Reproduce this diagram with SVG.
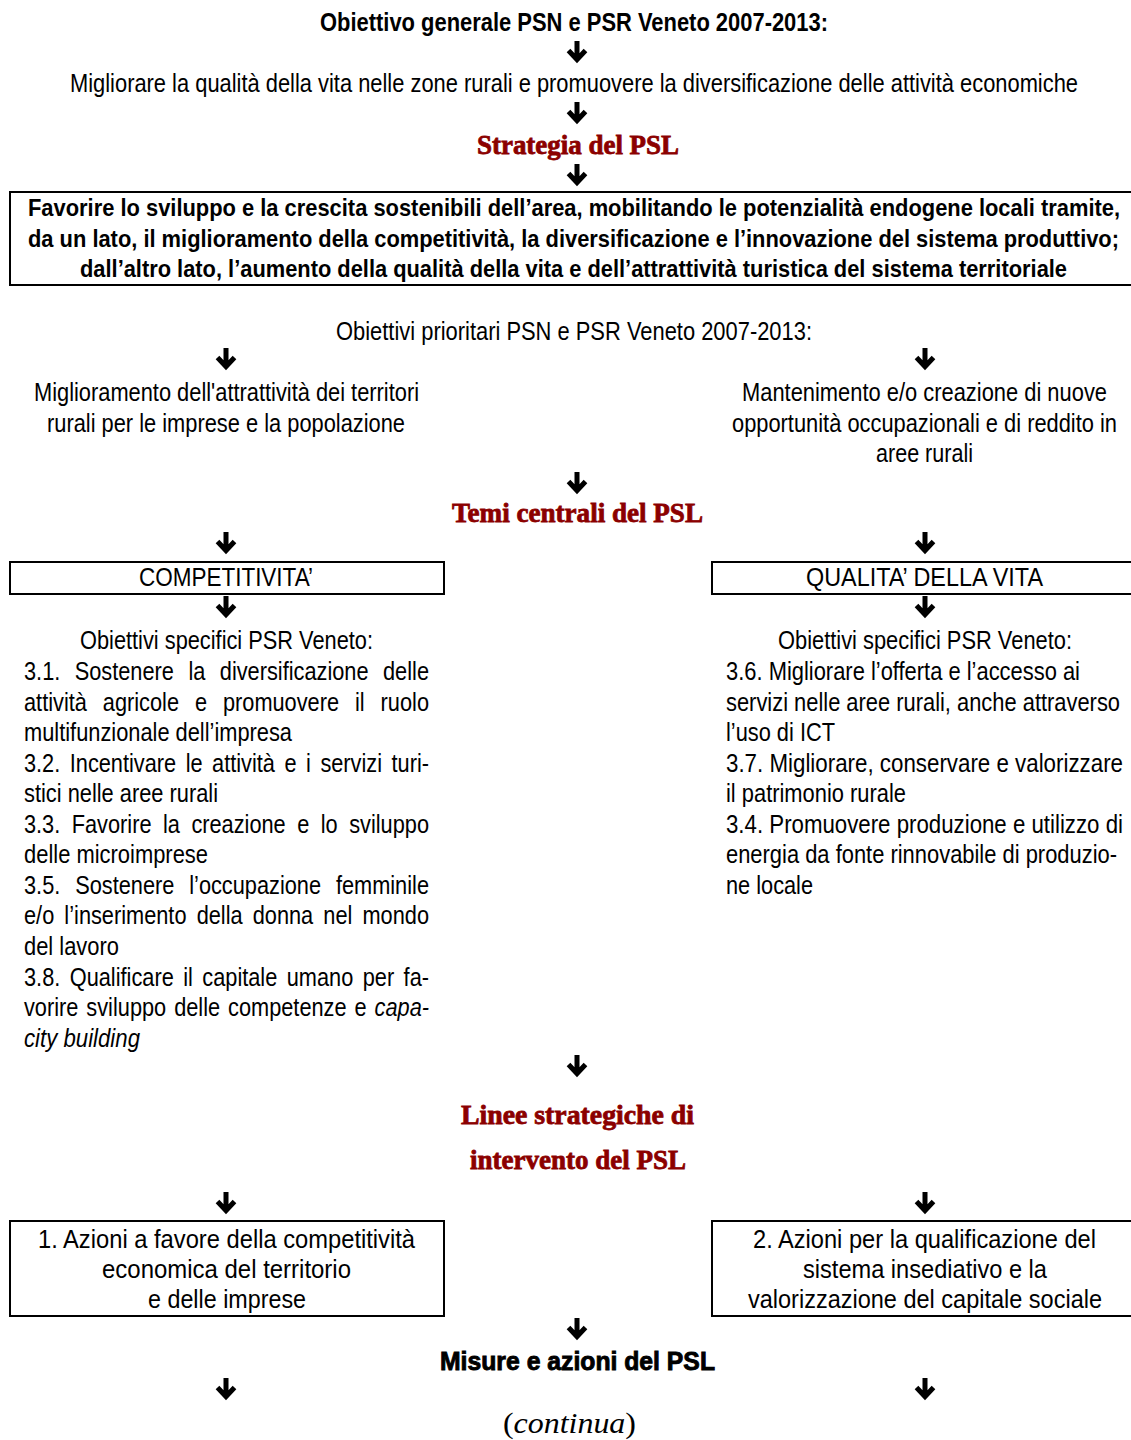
<svg xmlns="http://www.w3.org/2000/svg" width="1131" height="1440" viewBox="0 0 1131 1440">
<style>
.t{font-family:"Liberation Sans Narrow","Liberation Sans",Arial,sans-serif;font-size:25px;fill:#000}
.b{font-weight:bold;font-size:24px}
.c{text-anchor:middle}
.h{font-family:"Liberation Serif","DejaVu Serif",serif;font-weight:bold;font-size:28px;fill:#8B0000;stroke:#8B0000;stroke-width:0.8;text-anchor:middle}
.k{font-family:"Liberation Sans","DejaVu Sans",sans-serif;font-weight:bold;font-size:26px;fill:#000;stroke:#000;stroke-width:0.9;text-anchor:middle}
.box{fill:none;stroke:#000;stroke-width:2}
.it{font-style:italic}
</style>
<defs>
<path id="arr" d="M0,0 V18 M-8.5,9.5 L0,18.5 L8.5,9.5" fill="none" stroke="#000" stroke-width="5" stroke-linejoin="miter"/>
</defs>
<rect width="1131" height="1440" fill="#fff"/>

<g id="connectors">
<use href="#arr" x="577" y="41"/>
<use href="#arr" x="577" y="102"/>
<use href="#arr" x="577" y="164"/>
<use href="#arr" x="226" y="348"/>
<use href="#arr" x="925" y="348"/>
<use href="#arr" x="577" y="472"/>
<use href="#arr" x="226" y="532"/>
<use href="#arr" x="925" y="532"/>
<use href="#arr" x="226" y="596"/>
<use href="#arr" x="925" y="596"/>
<use href="#arr" x="577" y="1055"/>
<use href="#arr" x="226" y="1192"/>
<use href="#arr" x="925" y="1192"/>
<use href="#arr" x="577" y="1318"/>
<use href="#arr" x="226" y="1378"/>
<use href="#arr" x="925" y="1378"/>
</g>

<g id="obiettivo-generale">
<text class="t b c" x="574" y="31" textLength="508" lengthAdjust="spacingAndGlyphs" style="font-size:25px">Obiettivo generale PSN e PSR Veneto 2007-2013:</text>
</g>

<g id="migliorare">
<text class="t c" x="574" y="92" textLength="1008" lengthAdjust="spacingAndGlyphs">Migliorare la qualità della vita nelle zone rurali e promuovere la diversificazione delle attività economiche</text>
</g>

<g id="strategia-titolo">
<text class="h" x="578" y="154" textLength="202" lengthAdjust="spacingAndGlyphs">Strategia del PSL</text>
</g>

<g id="strategia-box">
<rect class="box" x="10" y="192" width="1130" height="93"/>
<text class="t b c" x="574" y="216" textLength="1092" lengthAdjust="spacingAndGlyphs">Favorire lo sviluppo e la crescita sostenibili dell’area, mobilitando le potenzialità endogene locali tramite,</text>
<text class="t b c" x="573.5" y="247" textLength="1091" lengthAdjust="spacingAndGlyphs">da un lato, il miglioramento della competitività, la diversificazione e l’innovazione del sistema produttivo;</text>
<text class="t b c" x="573.5" y="277" textLength="987" lengthAdjust="spacingAndGlyphs">dall’altro lato, l’aumento della qualità della vita e dell’attrattività turistica del sistema territoriale</text>
</g>

<g id="obiettivi-prioritari">
<text class="t c" x="574" y="340" textLength="476" lengthAdjust="spacingAndGlyphs">Obiettivi prioritari PSN e PSR Veneto 2007-2013:</text>
</g>

<g id="prioritario-1">
<text class="t c" x="226.5" y="401" textLength="385" lengthAdjust="spacingAndGlyphs">Miglioramento dell'attrattività dei territori</text>
<text class="t c" x="226" y="432" textLength="358" lengthAdjust="spacingAndGlyphs">rurali per le imprese e la popolazione</text>
</g>

<g id="prioritario-2">
<text class="t c" x="924.5" y="401" textLength="365" lengthAdjust="spacingAndGlyphs">Mantenimento e/o creazione di nuove</text>
<text class="t c" x="924.5" y="432" textLength="385" lengthAdjust="spacingAndGlyphs">opportunità occupazionali e di reddito in</text>
<text class="t c" x="924.5" y="462" textLength="97" lengthAdjust="spacingAndGlyphs">aree rurali</text>
</g>

<g id="temi-titolo">
<text class="h" x="577.5" y="522" textLength="251" lengthAdjust="spacingAndGlyphs">Temi centrali del PSL</text>
</g>

<g id="competitivita">
<rect class="box" x="10" y="562" width="434" height="32"/>
<text class="t c" x="226" y="586" textLength="174" lengthAdjust="spacingAndGlyphs">COMPETITIVITA’</text>
</g>

<g id="qualita-vita">
<rect class="box" x="712" y="562" width="430" height="32"/>
<text class="t c" x="924.5" y="586" textLength="237" lengthAdjust="spacingAndGlyphs">QUALITA’ DELLA VITA</text>
</g>

<g id="obiettivi-competitivita">
<text class="t c" x="226.5" y="649" textLength="293" lengthAdjust="spacingAndGlyphs">Obiettivi specifici PSR Veneto:</text>
<g transform="scale(0.87,1)">
<text class="t" x="27.59" y="680" style="word-spacing:9.7px" textLength="465.5" lengthAdjust="spacing">3.1. Sostenere la diversificazione delle</text>
<text class="t" x="27.59" y="711" style="word-spacing:11.4px" textLength="465.5" lengthAdjust="spacing">attività agricole e promuovere il ruolo</text>
<text class="t" x="27.59" y="772" style="word-spacing:4px" textLength="465.5" lengthAdjust="spacing">3.2. Incentivare le attività e i servizi turi-</text>
<text class="t" x="27.59" y="833" style="word-spacing:6.3px" textLength="465.5" lengthAdjust="spacing">3.3. Favorire la creazione e lo sviluppo</text>
<text class="t" x="27.59" y="894" style="word-spacing:10.2px" textLength="465.5" lengthAdjust="spacing">3.5. Sostenere l’occupazione femminile</text>
<text class="t" x="27.59" y="924" style="word-spacing:4.7px" textLength="465.5" lengthAdjust="spacing">e/o l’inserimento della donna nel mondo</text>
<text class="t" x="27.59" y="986" style="word-spacing:3.9px" textLength="465.5" lengthAdjust="spacing">3.8. Qualificare il capitale umano per fa-</text>
<text class="t" x="27.59" y="1016" style="word-spacing:2.2px" textLength="465.5" lengthAdjust="spacing">vorire sviluppo delle competenze e <tspan class="it">capa-</tspan></text>
</g>
<text class="t" x="24" y="741" textLength="268" lengthAdjust="spacingAndGlyphs">multifunzionale dell’impresa</text>
<text class="t" x="24" y="802" textLength="194" lengthAdjust="spacingAndGlyphs">stici nelle aree rurali</text>
<text class="t" x="24" y="863" textLength="184" lengthAdjust="spacingAndGlyphs">delle microimprese</text>
<text class="t" x="24" y="955" textLength="95" lengthAdjust="spacingAndGlyphs">del lavoro</text>
<text class="t it" x="24" y="1047" textLength="116" lengthAdjust="spacingAndGlyphs">city building</text>
</g>

<g id="obiettivi-qualita">
<text class="t c" x="925" y="649" textLength="294" lengthAdjust="spacingAndGlyphs">Obiettivi specifici PSR Veneto:</text>
<text class="t" x="726" y="680" textLength="354" lengthAdjust="spacingAndGlyphs">3.6. Migliorare l’offerta e l’accesso ai</text>
<text class="t" x="726" y="711" textLength="394" lengthAdjust="spacingAndGlyphs">servizi nelle aree rurali, anche attraverso</text>
<text class="t" x="726" y="741" textLength="109" lengthAdjust="spacingAndGlyphs">l’uso di ICT</text>
<text class="t" x="726" y="772" textLength="397" lengthAdjust="spacingAndGlyphs">3.7. Migliorare, conservare e valorizzare</text>
<text class="t" x="726" y="802" textLength="180" lengthAdjust="spacingAndGlyphs">il patrimonio rurale</text>
<text class="t" x="726" y="833" textLength="397" lengthAdjust="spacingAndGlyphs">3.4. Promuovere produzione e utilizzo di</text>
<text class="t" x="726" y="863" textLength="391" lengthAdjust="spacingAndGlyphs">energia da fonte rinnovabile di produzio-</text>
<text class="t" x="726" y="894" textLength="87" lengthAdjust="spacingAndGlyphs">ne locale</text>
</g>

<g id="linee-titolo">
<text class="h" x="577.5" y="1124" textLength="233" lengthAdjust="spacingAndGlyphs">Linee strategiche di</text>
<text class="h" x="578" y="1169" textLength="216" lengthAdjust="spacingAndGlyphs">intervento del PSL</text>
</g>

<g id="linea-1">
<rect class="box" x="10" y="1221" width="434" height="95"/>
<text class="t c" x="226.5" y="1248" textLength="377" lengthAdjust="spacingAndGlyphs">1. Azioni a favore della competitività</text>
<text class="t c" x="226.5" y="1278" textLength="249" lengthAdjust="spacingAndGlyphs">economica del territorio</text>
<text class="t c" x="227" y="1308" textLength="158" lengthAdjust="spacingAndGlyphs">e delle imprese</text>
</g>

<g id="linea-2">
<rect class="box" x="712" y="1221" width="430" height="95"/>
<text class="t c" x="924.5" y="1248" textLength="343" lengthAdjust="spacingAndGlyphs">2. Azioni per la qualificazione del</text>
<text class="t c" x="925" y="1278" textLength="244" lengthAdjust="spacingAndGlyphs">sistema insediativo e la</text>
<text class="t c" x="925" y="1308" textLength="354" lengthAdjust="spacingAndGlyphs">valorizzazione del capitale sociale</text>
</g>

<g id="misure-titolo">
<text class="k" x="577.5" y="1370" textLength="275" lengthAdjust="spacingAndGlyphs">Misure e azioni del PSL</text>
</g>

<g id="continua">
<text x="569.5" y="1433" text-anchor="middle" textLength="133" lengthAdjust="spacingAndGlyphs" style="font-family:'Liberation Serif','DejaVu Serif',serif;font-size:30px;fill:#000">(<tspan font-style="italic">continua</tspan>)</text>
</g>
</svg>
